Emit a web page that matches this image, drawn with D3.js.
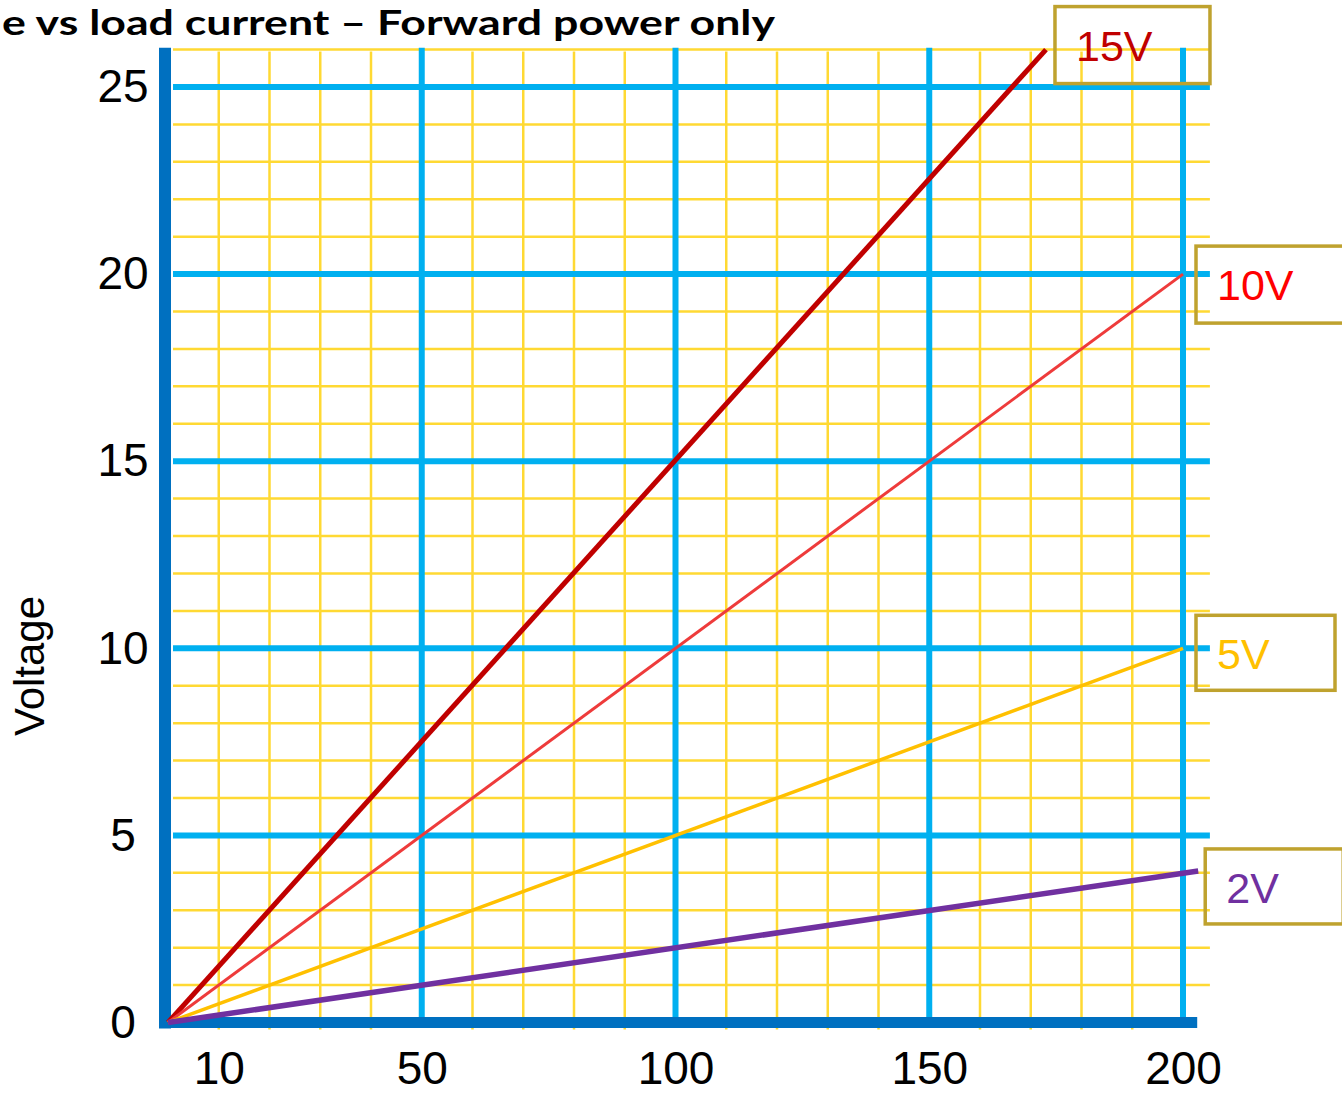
<!DOCTYPE html>
<html>
<head>
<meta charset="utf-8">
<script src="https://cdn.jsdelivr.net/npm/d3@7"></script>
<style>
  body { margin: 0; background: #fff; }
  svg { display: block; }
</style>
</head>
<body>
<svg id="chart" width="1342" height="1094"></svg>
<script>
// data
var titleText = "e vs load current \u2013 Forward power only";
var yAxisTitle = "Voltage";
var xTickLabels = [10, 50, 100, 150, 200];
var yTickLabels = [0, 5, 10, 15, 20, 25];
var xMajorGrid = [50, 100, 150, 200];
var xMinorGrid = [10, 20, 30, 40, 60, 70, 80, 90, 110, 120, 130, 140, 160, 170, 180, 190];
var yMajorGrid = [5, 10, 15, 20, 25];
var yMinorGrid = [1, 2, 3, 4, 6, 7, 8, 9, 11, 12, 13, 14, 16, 17, 18, 19, 21, 22, 23, 24, 26];
var seriesNames = ["15V", "10V", "5V", "2V"];
var line15V = [[0, 0], [173, 26]];
var line10V = [[0, 0], [200, 20]];
var line5V = [[0, 0], [200, 10]];
var line2V = [[0, 0], [203, 4.05]];

var svg = d3.select("#chart");

var x = d3.scaleLinear().domain([0, 200]).range([168, 1183]);
var y = d3.scaleLinear().domain([0, 25]).range([1022.5, 87]);

var gridLeft = x(0) + 5, gridRight = x(205.3);
var gridTop = y(26.05);

// minor grid
var minor = svg.append("g").attr("stroke", "#FFD933").attr("stroke-width", 2.5);
minor.selectAll(".hy").data(yMinorGrid).enter().append("line")
    .attr("x1", gridLeft).attr("x2", gridRight)
    .attr("y1", d => y(d)).attr("y2", d => y(d));
minor.selectAll(".vx").data(xMinorGrid).enter().append("line")
    .attr("x1", d => x(d)).attr("x2", d => x(d))
    .attr("y1", y(26) + 2).attr("y2", y(0) + 7);

// major grid
var major = svg.append("g").attr("stroke", "#00B0F0").attr("stroke-width", 6);
major.selectAll(".hy").data(yMajorGrid).enter().append("line")
    .attr("x1", gridLeft).attr("x2", gridRight)
    .attr("y1", d => y(d)).attr("y2", d => y(d));
major.selectAll(".vx").data(xMajorGrid).enter().append("line")
    .attr("x1", d => x(d)).attr("x2", d => x(d))
    .attr("y1", gridTop).attr("y2", y(0));

// thick axis lines
svg.append("line")
    .attr("x1", x(0) - 3).attr("x2", x(0) - 3)
    .attr("y1", gridTop).attr("y2", y(0) + 6)
    .attr("stroke", "#0070C0").attr("stroke-width", 12);
svg.append("line")
    .attr("x1", x(0) - 9).attr("x2", x(202.8))
    .attr("y1", y(0)).attr("y2", y(0))
    .attr("stroke", "#0070C0").attr("stroke-width", 11);

// series
var series = [
  {name: seriesNames[0], pts: line15V, color: "#C00000", width: 5, text: "#C00000"},
  {name: seriesNames[1], pts: line10V, color: "#EE3B3B", width: 3, text: "#FF0000"},
  {name: seriesNames[2], pts: line5V, color: "#FFC000", width: 3.5, text: "#FFC000"},
  {name: seriesNames[3], pts: line2V, color: "#7030A0", width: 5.5, text: "#7030A0"}
];
// label box layout, relative to each line's end
var boxLayout = {
  "15V": {dx: 9, dy: -43, w: 155, h: 77},
  "10V": {dx: 13, dy: -28, w: 160, h: 77},
  "5V": {dx: 13, dy: -33, w: 139, h: 75},
  "2V": {dx: 7, dy: -22, w: 138, h: 75}
};

var line = d3.line().x(d => x(d[0])).y(d => y(d[1]));
svg.append("g").selectAll("path").data(series).enter().append("path")
    .attr("d", d => line(d.pts))
    .attr("fill", "none")
    .attr("stroke", d => d.color)
    .attr("stroke-width", d => d.width);

var labels = svg.append("g").selectAll("g").data(series).enter().append("g")
    .attr("transform", d => {
      var end = d.pts[d.pts.length - 1], b = boxLayout[d.name];
      return "translate(" + (x(end[0]) + b.dx) + "," + (y(end[1]) + b.dy) + ")";
    });
labels.append("rect")
    .attr("width", d => boxLayout[d.name].w)
    .attr("height", d => boxLayout[d.name].h)
    .attr("fill", "none")
    .attr("stroke", "#BFA22E")
    .attr("stroke-width", 3.5);
labels.append("text")
    .attr("x", 21).attr("y", 54)
    .attr("fill", d => d.text)
    .style("font-family", "'Liberation Sans', Arial, sans-serif")
    .style("font-size", "43px")
    .text(d => d.name);

// tick labels through axes
var xAxis = svg.append("g")
    .attr("transform", "translate(0," + y(0) + ")")
    .call(d3.axisBottom(x).tickValues(xTickLabels).tickSize(0).tickPadding(29));
var yAxis = svg.append("g")
    .attr("transform", "translate(123,0)")
    .call(d3.axisLeft(y).tickValues(yTickLabels).tickSize(0).tickPadding(0));
[xAxis, yAxis].forEach(a => {
  a.select(".domain").remove();
  a.selectAll("text")
    .attr("fill", "#000")
    .style("font-family", "'Liberation Sans', Arial, sans-serif")
    .style("font-size", "46px");
});
yAxis.selectAll("text").attr("text-anchor", "middle").attr("x", 0);

svg.append("text")
    .attr("transform", "translate(44,666) rotate(-90)")
    .attr("text-anchor", "middle")
    .style("font-family", "'Liberation Sans', Arial, sans-serif")
    .style("font-size", "42px")
    .text(yAxisTitle);

svg.append("text")
    .attr("x", 2).attr("y", 35)
    .attr("textLength", 773)
    .attr("lengthAdjust", "spacingAndGlyphs")
    .style("font-family", "Lato, 'Open Sans', sans-serif")
    .style("font-weight", "bold")
    .style("font-size", "35px")
    .text(titleText);
</script>
</body>
</html>
